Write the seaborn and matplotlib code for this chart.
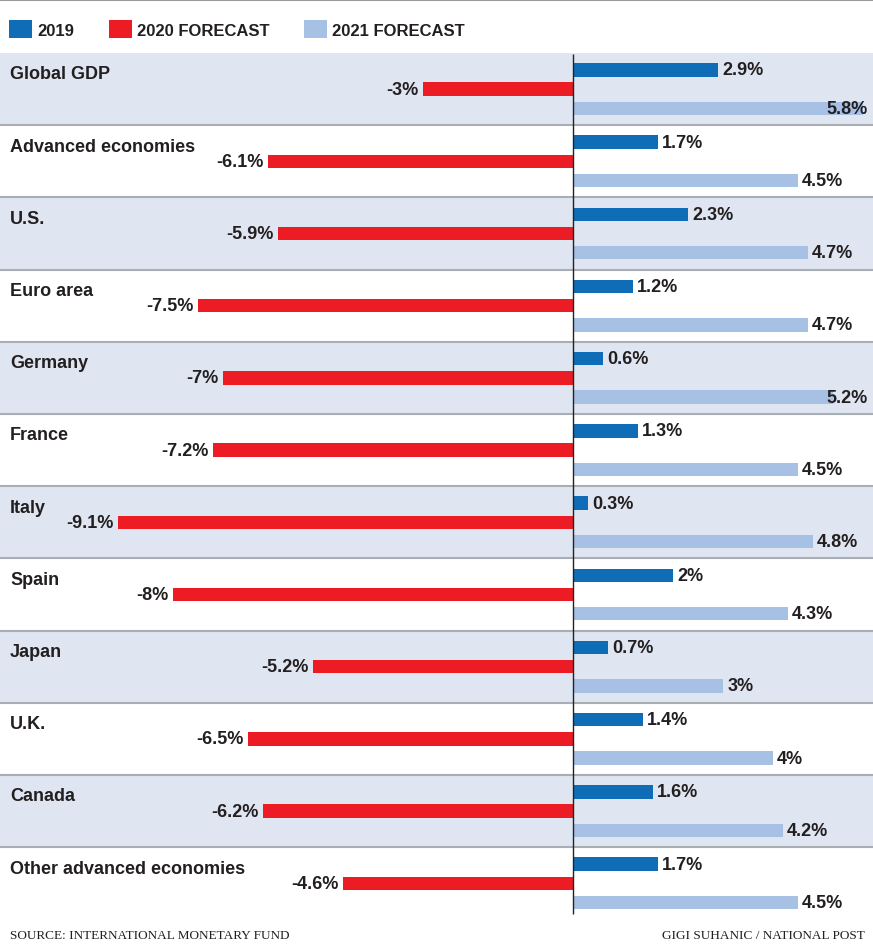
import numpy as np
import pandas as pd
import matplotlib
matplotlib.use("Agg")
import matplotlib.pyplot as plt
from matplotlib.lines import Line2D
import seaborn as sns

# IMF growth projections (%)
regions = ["Global GDP", "Advanced economies", "U.S.", "Euro area", "Germany",
           "France", "Italy", "Spain", "Japan", "U.K.", "Canada",
           "Other advanced economies"]
series = ["2019", "2020 FORECAST", "2021 FORECAST"]
growth_2019 = [2.9, 1.7, 2.3, 1.2, 0.6, 1.3, 0.3, 2.0, 0.7, 1.4, 1.6, 1.7]
growth_2020 = [-3.0, -6.1, -5.9, -7.5, -7.0, -7.2, -9.1, -8.0, -5.2, -6.5, -6.2, -4.6]
growth_2021 = [5.8, 4.5, 4.7, 4.7, 5.2, 4.5, 4.8, 4.3, 3.0, 4.0, 4.2, 4.5]
colors = ["#0f6cb6", "#ed1c24", "#a7c1e5"]
source_text = "SOURCE: INTERNATIONAL MONETARY FUND"
credit_text = "GIGI SUHANIC / NATIONAL POST"

df = pd.DataFrame({
    "region": regions * 3,
    "series": np.repeat(series, len(regions)),
    "value": growth_2019 + growth_2020 + growth_2021,
})

sns.set_theme(style="white")
plt.rcParams["font.family"] = ["Liberation Sans", "DejaVu Sans"]

W, H = 873, 945
fig = plt.figure(figsize=(W / 100, H / 100), dpi=100)
n = len(regions)
row_px = 72.2
top_px = 54
bot_px = top_px + n * row_px
ax = fig.add_axes([0, 1 - bot_px / H, 1, (bot_px - top_px) / H])

# alternating row bands and separators
for i in range(n):
    if i % 2 == 0:
        ax.axhspan(i - 0.5, i + 0.5, color="#dfe6f1", zorder=0, lw=0)
    if i < n - 1:
        ax.axhline(i + 0.5, color="#a9adb4", lw=1.5, zorder=1)

sns.barplot(data=df, x="value", y="region", hue="series", hue_order=series,
            order=regions, palette=colors, orient="h", width=0.8, gap=0.3,
            saturation=1, errorbar=None, linewidth=0, ax=ax, zorder=2)

ax.set_xlim(-573 / 50, 300 / 50)
ax.set_ylim(n - 0.5, -0.5)
ax.set_axis_off()

# zero line
y0 = -0.5 + (55 - top_px) / row_px
y1 = -0.5 + (915 - top_px) / row_px
ax.vlines(0, y0, y1, color="#222222", lw=1, zorder=3)

# region names
for i, name in enumerate(regions):
    ax.text(10 / W, i - 0.21, name, transform=ax.get_yaxis_transform(),
            ha="left", va="center", fontsize=13, fontweight="bold",
            color="#231f20")

# value labels
values = [growth_2019, growth_2020, growth_2021]
all_labels = []
for cont, vals in zip(ax.containers, values):
    anns = ax.bar_label(cont, labels=[f"{v:g}%" for v in vals], padding=3,
                        fontsize=13, fontweight="bold", color="#231f20")
    all_labels.extend(anns)

# keep labels that would run past the right edge inside the figure
fig.canvas.draw()
renderer = fig.canvas.get_renderer()
for ann in all_labels:
    bb = ann.get_window_extent(renderer)
    if bb.x1 > W - 3:
        ann.xy = (ax.get_xlim()[1], ann.xy[1])
        ann.xyann = (-4, 0)
        ann.set_ha("right")

sns.move_legend(ax, "center left", bbox_to_anchor=(9 / W, 1 - 30 / H),
                bbox_transform=fig.transFigure, ncol=3, title=None,
                frameon=False, fontsize=12, handlelength=1.38,
                handleheight=1.2, handletextpad=0.3, columnspacing=2.1,
                borderaxespad=0, borderpad=0)
for t in ax.get_legend().get_texts():
    t.set_fontweight("bold")
    t.set_color("#231f20")

fig.add_artist(Line2D([0, 1], [1 - 1 / H] * 2, color="#9a9a9a", lw=1.5,
                      transform=fig.transFigure))

fig.text(10 / W, 1 - 936 / H, source_text, fontfamily="Liberation Serif",
         fontsize=9.5, va="center", ha="left", color="#231f20")
fig.text(865 / W, 1 - 936 / H, credit_text, fontfamily="Liberation Serif",
         fontsize=9.5, va="center", ha="right", color="#231f20")

fig.savefig("out.png", dpi=100)
